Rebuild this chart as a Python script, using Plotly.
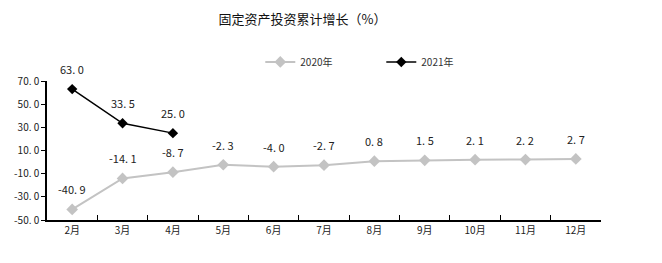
import plotly.graph_objects as go

months = ["2月", "3月", "4月", "5月", "6月", "7月", "8月", "9月", "10月", "11月", "12月"]
vals_2020 = [-40.9, -14.1, -8.7, -2.3, -4.0, -2.7, 0.8, 1.5, 2.1, 2.2, 2.7]
months_2021 = ["2月", "3月", "4月"]
vals_2021 = [63.0, 33.5, 25.0]
y_ticks = [-50, -30, -10, 10, 30, 50, 70]
y_ticktext = ["-50. 0", "-30. 0", "-10. 0", "10. 0", "30. 0", "50. 0", "70. 0"]

FONT = "Noto Sans CJK SC"

fig = go.Figure()
fig.add_trace(go.Scatter(
    x=months, y=vals_2020, name="2020年", mode="lines+markers",
    line=dict(color="#c3c3c3", width=2),
    marker=dict(symbol="diamond", size=9, color="#c3c3c3"),
    cliponaxis=False,
))
fig.add_trace(go.Scatter(
    x=months_2021, y=vals_2021, name="2021年", mode="lines+markers",
    line=dict(color="#000000", width=1.5),
    marker=dict(symbol="diamond", size=8, color="#000000"),
    cliponaxis=False,
))

for xs, ys in ((months, vals_2020), (months_2021, vals_2021)):
    for xv, yv in zip(xs, ys):
        fig.add_annotation(
            x=xv, y=yv, text=f"{yv:.1f}".replace(".", ". "),
            showarrow=False, yshift=20, yanchor="middle",
            font=dict(family=FONT, size=11, color="#222"),
        )

fig.update_layout(
    width=662, height=263,
    margin=dict(l=47, r=61, t=81, b=43),
    paper_bgcolor="white", plot_bgcolor="white",
    font=dict(family=FONT, size=11, color="#222"),
    title=dict(text="固定资产投资累计增长（%）", x=0.457, xanchor="center",
               y=1 - 19 / 263, yanchor="middle",
               font=dict(family=FONT, size=13, color="#111")),
    legend=dict(orientation="h", x=0.385, xanchor="left", y=1.137, yanchor="middle",
                font=dict(family=FONT, size=10, color="#333"),
                entrywidth=76, entrywidthmode="pixels", itemwidth=30,
                bgcolor="rgba(0,0,0,0)"),
    showlegend=True,
)
fig.update_xaxes(
    type="category", categoryorder="array", categoryarray=months,
    range=[-0.5, 10.5], showgrid=False,
    showline=True, linecolor="#000", linewidth=1.5,
    ticks="inside", ticklen=5, tickcolor="#000", tickson="boundaries",
    tickfont=dict(family=FONT, size=10, color="#222"),
)
fig.update_yaxes(
    range=[-50, 70], tickvals=y_ticks, ticktext=y_ticktext, showgrid=False,
    zeroline=False,
    showline=True, linecolor="#000", linewidth=1.5,
    ticks="outside", ticklen=4, tickcolor="#000",
    tickfont=dict(family=FONT, size=10, color="#222"),
)

fig.write_html("out.html")
